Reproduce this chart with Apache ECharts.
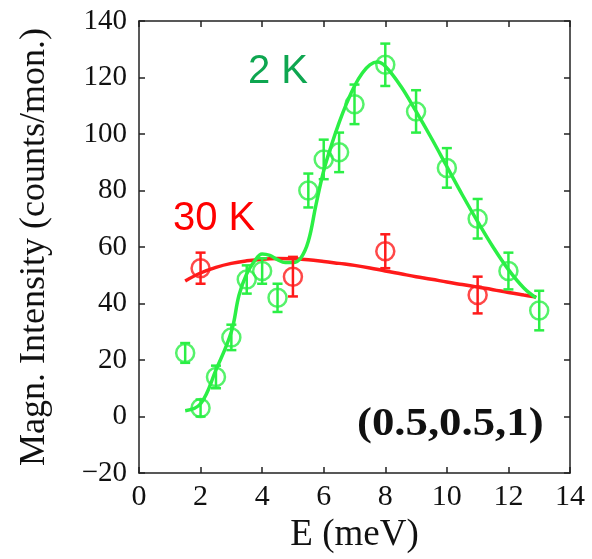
<!DOCTYPE html>
<html>
<head>
<meta charset="utf-8">
<script src="https://cdn.jsdelivr.net/npm/echarts@6/dist/echarts.min.js"></script>
<style>
  html, body { margin: 0; padding: 0; background: #fff; }
  #chart { width: 592px; height: 559px; }
</style>
</head>
<body>
<div id="chart"></div>
<script>
  // measured points, 2 K
  const greenE = [1.5, 2, 2.5, 3, 3.5, 4, 4.5, 5.5, 6, 6.5, 7, 8, 9, 10, 11, 12, 13];
  const greenI = [22.5, 3, 14, 28, 48.5, 51.5, 42, 80, 91, 93.5, 110.5, 124.5, 108, 88, 70, 51.5, 37.5];
  const greenErr = [3.5, 3, 4, 4.5, 5, 4.5, 5, 6, 7, 7, 7, 7.5, 7.5, 7, 7, 6.5, 7];

  // measured points, 30 K
  const redE = [2, 5, 8, 11];
  const redI = [52.5, 49.5, 58.5, 43];
  const redErr = [5.5, 7, 6, 6.5];

  // fit curves
  const greenFitE = [1.5, 2, 2.5, 3, 3.25, 3.5, 3.75, 4, 4.25, 4.5, 4.75, 5, 5.25, 5.5, 5.75, 6, 6.25, 6.5, 6.75, 7, 7.25, 7.5, 7.75, 8, 8.5, 9, 9.5, 10, 10.5, 11, 11.5, 12, 12.5, 12.9];
  const greenFitI = [2, 4.5, 16.5, 30, 43, 50.5, 55, 57.5, 57, 55.5, 54.5, 54.5, 56, 62, 75, 87, 96, 104, 111, 117, 121.5, 124.5, 125.5, 124, 117, 108, 98.5, 88.5, 78.5, 69, 60, 52, 45.5, 42];
  const redFitE = [1.5, 2, 2.5, 3, 3.5, 4, 4.5, 5, 5.5, 6, 6.5, 7, 7.5, 8, 8.5, 9, 9.5, 10, 10.5, 11, 11.5, 12, 12.5, 12.9];
  const redFitI = [48, 50.8, 52.8, 54.2, 55.1, 55.7, 55.9, 55.8, 55.5, 54.9, 54.2, 53.5, 52.6, 51.5, 50.5, 49.5, 48.6, 47.6, 46.7, 45.8, 44.9, 43.9, 43.0, 42.3];

  const GREEN = '#2bef45';
  const RED = '#ff1a1a';
  const AXIS = '#222';
  const SERIF = '"Liberation Serif", "DejaVu Serif", serif';
  const SANS = '"Liberation Sans", Arial, sans-serif';

  const zip = (xs, ys) => xs.map((x, i) => [x, ys[i]]);
  const errData = (xs, ys, es) => xs.map((x, i) => [x, ys[i] - es[i], ys[i] + es[i]]);

  const errorBars = (color) => (params, api) => {
    const lo = api.coord([api.value(0), api.value(1)]);
    const hi = api.coord([api.value(0), api.value(2)]);
    const hw = 5;
    const style = { stroke: color, lineWidth: 2.5, fill: null };
    return {
      type: 'group',
      children: [
        { type: 'line', shape: { x1: lo[0], y1: lo[1], x2: hi[0], y2: hi[1] }, style },
        { type: 'line', shape: { x1: lo[0] - hw, y1: lo[1], x2: lo[0] + hw, y2: lo[1] }, style },
        { type: 'line', shape: { x1: hi[0] - hw, y1: hi[1], x2: hi[0] + hw, y2: hi[1] }, style }
      ]
    };
  };

  const frameAxis = { onZero: false, lineStyle: { color: AXIS, width: 1.5 } };
  const tick = { show: true, inside: true, length: 6, lineStyle: { color: AXIS, width: 1.5 } };

  const chart = echarts.init(document.getElementById('chart'), null, { renderer: 'canvas' });
  chart.setOption({
    animation: false,
    backgroundColor: '#fff',
    grid: { left: 139, right: 22, top: 21, bottom: 84 },
    xAxis: [
      {
        type: 'value', min: 0, max: 14, interval: 2, position: 'bottom',
        axisLine: frameAxis, axisTick: tick, splitLine: { show: false },
        axisLabel: { color: '#111', fontFamily: SERIF, fontSize: 30, margin: 9 },
        name: 'E (meV)', nameLocation: 'middle', nameGap: 44,
        nameTextStyle: { color: '#111', fontFamily: SERIF, fontSize: 37 }
      },
      {
        type: 'value', min: 0, max: 14, interval: 2, position: 'top',
        axisLine: frameAxis, axisTick: tick, splitLine: { show: false }, axisLabel: { show: false }
      }
    ],
    yAxis: [
      {
        type: 'value', min: -20, max: 140, interval: 20, position: 'left',
        axisLine: frameAxis, axisTick: tick, splitLine: { show: false },
        axisLabel: {
          color: '#111', fontFamily: SERIF, fontSize: 29, margin: 12,
          formatter: (v) => String(v).replace('-', '\u2212')
        },
        name: 'Magn. Intensity (counts/mon.)', nameLocation: 'middle', nameGap: 86,
        nameTextStyle: { color: '#111', fontFamily: SERIF, fontSize: 36 }
      },
      {
        type: 'value', min: -20, max: 140, interval: 20, position: 'right',
        axisLine: frameAxis, axisTick: tick, splitLine: { show: false }, axisLabel: { show: false }
      }
    ],
    series: [
      {
        type: 'line', data: zip(redFitE, redFitI), smooth: 0.4, showSymbol: false,
        lineStyle: { color: RED, width: 3.5 }, z: 2
      },
      {
        type: 'line', data: zip(greenFitE, greenFitI), smooth: 0.4, showSymbol: false,
        lineStyle: { color: GREEN, width: 3.5 }, z: 2
      },
      { type: 'custom', data: errData(greenE, greenI, greenErr), renderItem: errorBars(GREEN), encode: { x: 0, y: [1, 2] }, z: 3 },
      { type: 'custom', data: errData(redE, redI, redErr), renderItem: errorBars(RED), encode: { x: 0, y: [1, 2] }, z: 3 },
      {
        type: 'scatter', data: zip(greenE, greenI), symbol: 'circle', symbolSize: 18,
        itemStyle: { color: 'rgba(255,255,255,0)', borderColor: GREEN, borderWidth: 2.5 }, z: 4
      },
      {
        type: 'scatter', data: zip(redE, redI), symbol: 'circle', symbolSize: 18,
        itemStyle: { color: 'rgba(255,255,255,0)', borderColor: RED, borderWidth: 2.5 }, z: 4
      }
    ],
    graphic: [
      { type: 'text', left: 248, top: 52, style: { text: '2 K', fill: '#0ea650', font: '40px ' + SANS } },
      { type: 'text', left: 173, top: 199, style: { text: '30 K', fill: '#ff0000', font: '40px ' + SANS } },
      { type: 'text', x: 357, y: 405, scaleX: 1.12, style: { text: '(0.5,0.5,1)', fill: '#111', font: 'bold 40px ' + SERIF } }
    ]
  });
</script>
</body>
</html>
